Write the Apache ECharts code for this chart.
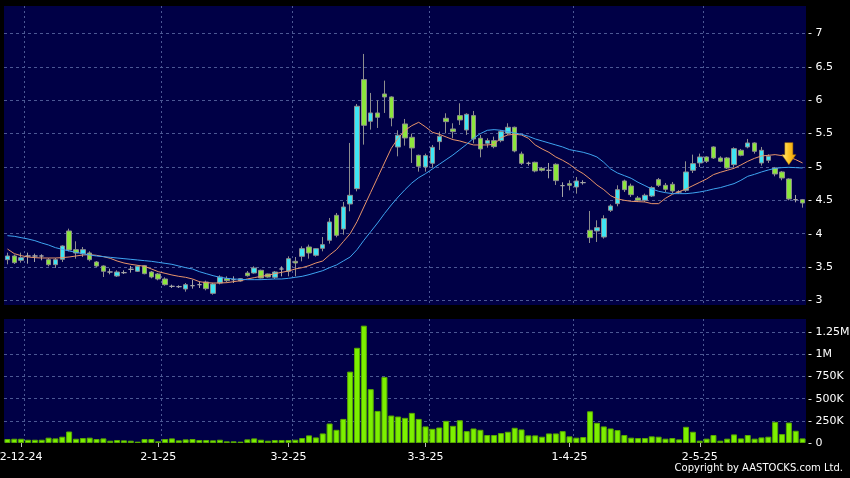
<!DOCTYPE html>
<html><head><meta charset="utf-8">
<script src="https://cdn.jsdelivr.net/npm/echarts@6/dist/echarts.min.js"></script>
<style>html,body{margin:0;padding:0;background:#000;}#c{width:850px;height:478px;}</style>
</head><body><div id="c"></div><script>
const dates = ['28-11-24','29-11-24','2-12-24','3-12-24','4-12-24','5-12-24','6-12-24','9-12-24','10-12-24','11-12-24','12-12-24','13-12-24','16-12-24','17-12-24','18-12-24','19-12-24','20-12-24','23-12-24','24-12-24','27-12-24','30-12-24','31-12-24',
'2-1-25','3-1-25','6-1-25','7-1-25','8-1-25','9-1-25','10-1-25','13-1-25','14-1-25','15-1-25','16-1-25','17-1-25','20-1-25','21-1-25','22-1-25','23-1-25','24-1-25','27-1-25','28-1-25',
'3-2-25','4-2-25','5-2-25','6-2-25','7-2-25','10-2-25','11-2-25','12-2-25','13-2-25','14-2-25','17-2-25','18-2-25','19-2-25','20-2-25','21-2-25','24-2-25','25-2-25','26-2-25','27-2-25','28-2-25',
'3-3-25','4-3-25','5-3-25','6-3-25','7-3-25','10-3-25','11-3-25','12-3-25','13-3-25','14-3-25','17-3-25','18-3-25','19-3-25','20-3-25','21-3-25','24-3-25','25-3-25','26-3-25','27-3-25','28-3-25','31-3-25',
'1-4-25','2-4-25','3-4-25','7-4-25','8-4-25','9-4-25','10-4-25','11-4-25','14-4-25','15-4-25','16-4-25','17-4-25','22-4-25','23-4-25','24-4-25','25-4-25','28-4-25','29-4-25','30-4-25',
'2-5-25','6-5-25','7-5-25','8-5-25','9-5-25','12-5-25','13-5-25','14-5-25','15-5-25','16-5-25','19-5-25','20-5-25','21-5-25','22-5-25','23-5-25','26-5-25'];

const openP = [3.61,3.665,3.60,3.665,3.665,3.665,3.61,3.535,3.615,4.04,
3.76,3.70,3.71,3.575,3.515,3.425,3.365,3.415,3.465,3.435,
3.52,3.425,3.395,3.32,3.21,3.205,3.17,3.22,3.235,3.275,
3.105,3.26,3.325,3.31,3.29,3.41,3.41,3.45,3.395,3.345,
3.47,3.435,3.585,3.66,3.80,3.675,3.78,3.90,4.275,4.07,
4.445,4.675,6.31,5.685,5.81,6.095,6.05,5.30,5.645,5.445,
5.175,5.0,5.055,5.38,5.73,5.57,5.77,5.555,5.77,5.43,
5.355,5.395,5.395,5.505,5.595,5.195,5.055,5.07,4.98,4.95,
5.04,4.72,4.75,4.70,4.765,4.05,4.04,3.95,4.35,4.45,
4.79,4.715,4.535,4.5,4.565,4.81,4.725,4.74,4.625,4.65,
4.95,5.06,5.15,5.3,5.135,5.135,5.035,5.25,5.3,5.36,
5.06,5.1,4.985,4.925,4.82,4.51,4.51];
const closeP = [3.665,3.565,3.64,3.665,3.665,3.665,3.535,3.61,3.815,3.755,
3.71,3.76,3.61,3.515,3.435,3.425,3.425,3.415,3.465,3.51,
3.40,3.35,3.32,3.235,3.21,3.205,3.235,3.22,3.235,3.175,
3.245,3.35,3.295,3.31,3.325,3.37,3.485,3.335,3.35,3.425,
3.47,3.625,3.56,3.775,3.71,3.775,3.835,4.175,3.975,4.40,
4.575,5.91,5.625,5.81,5.745,6.05,5.735,5.475,5.435,5.285,
5.01,5.17,5.295,5.46,5.68,5.53,5.705,5.79,5.42,5.27,
5.395,5.305,5.53,5.595,5.24,5.055,5.055,4.94,4.95,4.95,
4.795,4.72,4.725,4.79,4.765,3.94,4.09,4.225,4.415,4.66,
4.66,4.585,4.5,4.575,4.69,4.725,4.665,4.64,4.625,4.925,
5.05,5.15,5.085,5.135,5.085,4.985,5.275,5.175,5.36,5.235,
5.25,5.16,4.895,4.835,4.52,4.51,4.46];
const lowP = [3.54,3.545,3.565,3.55,3.575,3.60,3.51,3.485,3.575,3.735,
3.625,3.65,3.585,3.50,3.35,3.39,3.35,3.395,3.415,3.425,
3.39,3.33,3.30,3.22,3.185,3.185,3.13,3.175,3.185,3.15,
3.085,3.24,3.27,3.26,3.28,3.355,3.40,3.33,3.34,3.32,
3.36,3.36,3.36,3.585,3.625,3.655,3.735,3.85,3.945,3.985,
4.335,4.635,5.335,5.56,5.585,5.81,5.61,5.16,5.32,5.06,
4.93,4.93,4.99,5.255,5.505,5.43,5.63,5.48,5.355,5.145,
5.29,5.28,5.37,5.48,5.22,5.03,5.02,4.92,4.93,4.83,
4.73,4.55,4.65,4.6,4.735,3.86,3.875,3.925,4.325,4.41,
4.625,4.55,4.475,4.475,4.55,4.70,4.625,4.61,4.6,4.625,
4.91,5.0,5.06,5.12,5.07,4.97,4.99,5.16,5.28,5.2,
5.02,5.06,4.86,4.8,4.5,4.47,4.39];
const highP = [3.715,3.685,3.715,3.715,3.70,3.69,3.635,3.635,3.825,4.075,
3.885,3.80,3.735,3.59,3.525,3.475,3.45,3.45,3.515,3.525,
3.53,3.44,3.41,3.345,3.235,3.225,3.26,3.31,3.285,3.295,
3.26,3.375,3.36,3.36,3.335,3.44,3.51,3.46,3.40,3.44,
3.51,3.66,3.65,3.81,3.835,3.78,3.95,4.235,4.31,4.475,
5.36,5.945,6.695,6.11,6.0,6.295,6.06,5.55,5.72,5.50,
5.185,5.2,5.33,5.53,5.805,5.655,5.955,5.805,5.84,5.48,
5.43,5.455,5.55,5.655,5.605,5.23,5.08,5.08,5.0,5.06,
5.055,4.77,4.80,4.85,4.8,4.34,4.2,4.275,4.44,4.725,
4.81,4.75,4.565,4.60,4.71,4.835,4.76,4.775,4.65,5.085,
5.185,5.2,5.16,5.31,5.16,5.15,5.295,5.27,5.42,5.37,
5.3,5.19,5.0,4.94,4.83,4.58,4.52];

const volumeK = [45,48,48,37,37,37,60,52,71,130,48,56,60,45,52,26,34,30,26,15,
45,45,19,45,52,30,41,45,34,34,30,37,19,19,15,41,52,37,26,34,
34,34,37,56,86,63,108,220,149,272,806,1075,1325,608,362,746,310,299,284,340,
272,187,160,175,250,194,257,134,164,149,90,90,112,127,172,153,86,86,71,108,
108,134,75,60,67,358,228,187,164,146,90,60,56,56,75,71,49,56,41,183,
127,26,49,90,26,49,97,52,90,49,63,71,239,101,231,138,52];

const ma10 = [3.77,3.70,3.67,3.65,3.64,3.635,3.635,3.635,3.64,3.65,
3.665,3.68,3.685,3.675,3.655,3.63,3.59,3.56,3.54,3.525,
3.51,3.47,3.43,3.405,3.38,3.36,3.345,3.32,3.28,3.265,
3.26,3.26,3.265,3.28,3.295,3.32,3.34,3.36,3.375,3.40,
3.42,3.44,3.47,3.49,3.52,3.56,3.59,3.68,3.76,3.88,
4.00,4.18,4.40,4.62,4.84,5.06,5.28,5.43,5.55,5.62,
5.67,5.60,5.52,5.49,5.45,5.41,5.39,5.36,5.33,5.33,
5.33,5.34,5.44,5.48,5.49,5.48,5.43,5.33,5.27,5.22,
5.15,5.10,5.04,4.96,4.90,4.82,4.73,4.66,4.57,4.52,
4.50,4.485,4.48,4.475,4.45,4.45,4.53,4.59,4.63,4.67,
4.72,4.77,4.82,4.885,4.92,4.95,4.98,5.03,5.085,5.13,
5.165,5.175,5.185,5.17,5.15,5.11,5.06];
const ma20 = [3.97,3.96,3.94,3.92,3.895,3.86,3.83,3.79,3.765,3.74,
3.72,3.70,3.68,3.665,3.655,3.645,3.635,3.625,3.615,3.605,
3.595,3.585,3.57,3.555,3.54,3.515,3.49,3.47,3.43,3.40,
3.37,3.345,3.33,3.32,3.315,3.31,3.31,3.31,3.315,3.32,
3.32,3.33,3.345,3.36,3.385,3.415,3.445,3.49,3.53,3.59,
3.65,3.76,3.90,4.03,4.16,4.30,4.43,4.55,4.66,4.76,
4.84,4.90,4.97,5.04,5.11,5.18,5.26,5.34,5.43,5.50,
5.55,5.56,5.55,5.53,5.51,5.49,5.46,5.42,5.39,5.36,
5.33,5.30,5.26,5.24,5.22,5.19,5.15,5.07,4.97,4.91,
4.87,4.83,4.77,4.72,4.67,4.635,4.615,4.60,4.60,4.60,
4.61,4.625,4.645,4.67,4.69,4.72,4.75,4.80,4.86,4.89,
4.925,4.955,4.98,4.99,4.995,4.99,4.985];

const priceTicks = [3,3.5,4,4.5,5,5.5,6,6.5,7];
const volumeTicks = [0,250000,500000,750000,1000000,1250000];
const arrowAt = {date: '22-5-25', price: 5.2};

const monthOf = d => d.split('-')[1];
const isMonthStart = i => i > 0 && i < dates.length && monthOf(dates[i]) !== monthOf(dates[i-1]);
const monthCount = dates.filter((d, i) => isMonthStart(i)).length;

const FONT = 'DejaVu Sans';
const GRIDC = '#4c5894';
const candleData = dates.map((d, i) => [openP[i], closeP[i], lowP[i], highP[i]]);
const volume = volumeK.map(v => v * 1000);

const vSplit = {
  show: true,
  interval: (idx) => isMonthStart(idx - 1),
  lineStyle: {color: Array(monthCount).fill(GRIDC).concat(['rgba(0,0,0,0)']), type: [2, 3], width: 1}
};

const chart = echarts.init(document.getElementById('c'), null, {renderer: 'canvas'});
chart.setOption({
  animation: false,
  backgroundColor: '#000000',
  title: {
    text: 'Copyright by AASTOCKS.com Ltd.', right: 2, bottom: 0,
    textStyle: {color: '#ffffff', fontSize: 10, fontWeight: 'normal', fontFamily: FONT}
  },
  grid: [
    {left: 4, right: 44, top: 6, height: 299, show: true, backgroundColor: '#000046', borderWidth: 0, containLabel: false, outerBoundsMode: 'none'},
    {left: 4, right: 44, top: 319, height: 124, show: true, backgroundColor: '#000046', borderWidth: 0, containLabel: false, outerBoundsMode: 'none'}
  ],
  xAxis: [
    {type: 'category', gridIndex: 0, data: dates, boundaryGap: true,
     axisLine: {show: false}, axisTick: {show: false}, axisLabel: {show: false}, splitLine: vSplit},
    {type: 'category', gridIndex: 1, data: dates, boundaryGap: true,
     axisLine: {show: false},
     axisTick: {show: true, alignWithLabel: true, interval: (idx) => isMonthStart(idx), length: 4, lineStyle: {color: '#bbbbbb'}},
     axisLabel: {show: true, interval: (idx) => isMonthStart(idx), color: '#ffffff', fontSize: 11, fontFamily: FONT, margin: 9},
     splitLine: vSplit}
  ],
  yAxis: [
    {type: 'value', gridIndex: 0, position: 'right', min: 2.93, max: 7.414, splitNumber: 9, scale: true,
     axisLine: {show: false}, axisTick: {show: false}, splitLine: {show: false},
     axisLabel: {color: '#ffffff', fontSize: 11, fontFamily: FONT, margin: 2,
       formatter: v => priceTicks.some(t => Math.abs(t - v) < 1e-6) ? '- ' + v : ''}},
    {type: 'value', gridIndex: 1, position: 'right', min: 0, max: 1400000, interval: 250000,
     axisLine: {show: false}, axisTick: {show: false}, splitLine: {show: false},
     axisLabel: {color: '#ffffff', fontSize: 11, fontFamily: FONT, margin: 2,
       formatter: v => volumeTicks.includes(v) ? '- ' + (v === 0 ? '0' : v >= 1e6 ? (v / 1e6) + 'M' : (v / 1e3) + 'K') : ''}}
  ],
  series: [
    {type: 'candlestick', name: 'price', xAxisIndex: 0, yAxisIndex: 0, data: candleData, barWidth: 5, z: 3,
     itemStyle: {color: '#3ee6f4', color0: '#8ce63c', borderColor: '#8e8e8e', borderColor0: '#8e8e8e', borderColorDoji: '#a6a6a6', borderWidth: 1},
     markLine: {silent: true, z: 1, symbol: ['none', 'none'], label: {show: false}, animation: false,
       lineStyle: {color: GRIDC, type: [3, 3], width: 1},
       data: priceTicks.map(v => ({yAxis: v}))},
     markPoint: {silent: true, animation: false,
       symbol: 'path://M3,0 L11,0 L11,12 L14,12 L7,22 L0,12 L3,12 Z', symbolSize: [14, 22],
       itemStyle: {color: new echarts.graphic.LinearGradient(0, 0, 1, 0, [{offset: 0, color: '#fff08a'}, {offset: 0.45, color: '#ffc82a'}, {offset: 1, color: '#e89a00'}]), borderColor: '#b07400', borderWidth: 0.5},
       label: {show: false},
       data: [{coord: [arrowAt.date, arrowAt.price]}]}},
    {type: 'line', name: 'MA10', xAxisIndex: 0, yAxisIndex: 0, data: ma10, symbol: 'none', z: 4,
     lineStyle: {color: '#e8946a', width: 1}},
    {type: 'line', name: 'MA20', xAxisIndex: 0, yAxisIndex: 0, data: ma20, symbol: 'none', z: 4,
     lineStyle: {color: '#3ea4f0', width: 1}},
    {type: 'bar', name: 'volume', xAxisIndex: 1, yAxisIndex: 1, data: volume, barWidth: 6, z: 3,
     itemStyle: {color: '#7cf000', borderColor: '#58a800', borderWidth: 1},
     markLine: {silent: true, z: 1, symbol: ['none', 'none'], label: {show: false}, animation: false,
       lineStyle: {color: GRIDC, type: [3, 3], width: 1},
       data: volumeTicks.filter(v => v > 0).map(v => ({yAxis: v}))}}
  ]
});
</script></body></html>
